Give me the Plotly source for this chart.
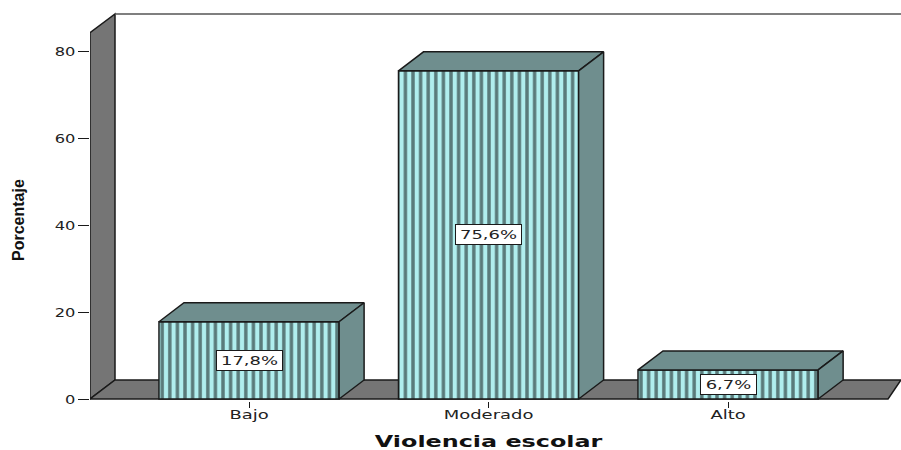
import plotly.graph_objects as go

categories = ["Bajo", "Moderado", "Alto"]
percent = [17.8, 75.6, 6.7]
y_ticks = [0, 20, 40, 60, 80]

X_MIN, X_MAX = -0.664, 2.722
Y_LOW, Y_HIGH = -0.46, 89.62
WALL_BACK_TOP = 88.7
WALL_TOP = 84.4
FLOOR_END = 2.668
BAR_W = 0.752
DX, DY = 25 / 239.5, 19 / 4.34

WALL = "#757575"
SIDE = "#6f8e8e"
INK = "#1a1a1a"
TEXT = "#222222"

idx = list(range(len(categories)))
fig = go.Figure()

fig.add_trace(go.Bar(
    x=idx, y=percent, width=BAR_W,
    marker=dict(
        color="#b0eeee",
        line=dict(color=INK, width=1.5),
        pattern=dict(shape="|", size=7.6, solidity=0.45, fgcolor="#5a7a7a", bgcolor="#b0eeee", fillmode="replace"),
    ),
    showlegend=False, hoverinfo="skip",
))

for i, v in zip(idx, percent):
    l, r = i - BAR_W / 2, i + BAR_W / 2
    fig.add_trace(go.Scatter(
        x=[l, l + DX, r + DX, r, l], y=[v, v + DY, v + DY, v, v],
        mode="lines", fill="toself", fillcolor=SIDE, line=dict(color=INK, width=1.5),
        showlegend=False, hoverinfo="skip",
    ))
    fig.add_trace(go.Scatter(
        x=[r, r + DX, r + DX, r, r], y=[v, v + DY, DY, 0, v],
        mode="lines", fill="toself", fillcolor=SIDE, line=dict(color=INK, width=1.5),
        showlegend=False, hoverinfo="skip",
    ))
    label = f"{v:.1f}%".replace(".", ",")
    fig.add_annotation(
        x=i, y=v / 2, text=label, showarrow=False,
        font=dict(family="DejaVu Sans", size=13, color=TEXT),
        width=len(label) * 10 + 13, height=17,
        bgcolor="white", bordercolor=INK, borderwidth=1, borderpad=1,
    )

fig.add_annotation(
    xref="paper", yref="paper", x=(489 - 90) / 811, y=(401 - 442) / 391,
    xanchor="center", yanchor="middle",
    text="Violencia escolar", showarrow=False,
    font=dict(family="DejaVu Sans", size=15, weight=700, color="#111111"),
)
fig.add_annotation(
    xref="paper", yref="paper", x=(18 - 90) / 811, y=(401 - 220) / 391,
    xanchor="center", yanchor="middle",
    text="Porcentaje", showarrow=False, textangle=-90,
    font=dict(family="Liberation Sans", size=16, weight=700, color="#111111"),
)

left_back = X_MIN + DX
shapes = [
    dict(type="path", layer="below", xref="x", yref="y", fillcolor=WALL,
         line=dict(color=INK, width=1.5),
         path=f"M{X_MIN},0 L{left_back},{DY} L{left_back},{WALL_BACK_TOP} L{X_MIN},{WALL_TOP} Z"),
    dict(type="path", layer="below", xref="x", yref="y", fillcolor=WALL,
         line=dict(color=INK, width=1.5),
         path=f"M{X_MIN},0 L{left_back},{DY} L{X_MAX},{DY} L{FLOOR_END},0 Z"),
    dict(type="line", layer="below", xref="x", yref="y", x0=left_back, x1=X_MAX,
         y0=WALL_BACK_TOP, y1=WALL_BACK_TOP, line=dict(color="#555555", width=1.5)),
]

fig.update_layout(
    width=901, height=450, margin=dict(l=90, r=0, t=10, b=49),
    paper_bgcolor="white", plot_bgcolor="white", showlegend=False, shapes=shapes,
    xaxis=dict(range=[X_MIN, X_MAX], tickmode="array", tickvals=idx, ticktext=categories,
               showgrid=False, zeroline=False, showline=False, ticks="outside", ticklen=6,
               tickcolor=INK, tickwidth=1, ticklabelstandoff=-5,
               tickfont=dict(family="DejaVu Sans", size=13, color=TEXT)),
    yaxis=dict(range=[Y_LOW, Y_HIGH], tickmode="array", tickvals=y_ticks,
               showgrid=False, zeroline=False, showline=False, ticks="outside", ticklen=11,
               tickcolor=INK, tickwidth=1,
               tickfont=dict(family="DejaVu Sans", size=13, color=TEXT)),
)

stretch_js = """
document.body.style.margin='0';document.body.style.overflow='hidden';
function widen(t,f){var n=t.getComputedTextLength();t.setAttribute('lengthAdjust','spacingAndGlyphs');t.setAttribute('textLength',n*f);}
document.querySelectorAll('.xtick text').forEach(function(t){widen(t,1.38);});
document.querySelectorAll('.ytick text').forEach(function(t){widen(t,1.25);});
document.querySelectorAll('text.annotation-text').forEach(function(t){
  var s=t.textContent;
  if(s==='Violencia escolar'){widen(t,1.59);}
  else if(s!=='Porcentaje'){widen(t,1.38);}
});
"""
fig.write_html("out.html", config=dict(displayModeBar=False, staticPlot=True), post_script=stretch_js)
